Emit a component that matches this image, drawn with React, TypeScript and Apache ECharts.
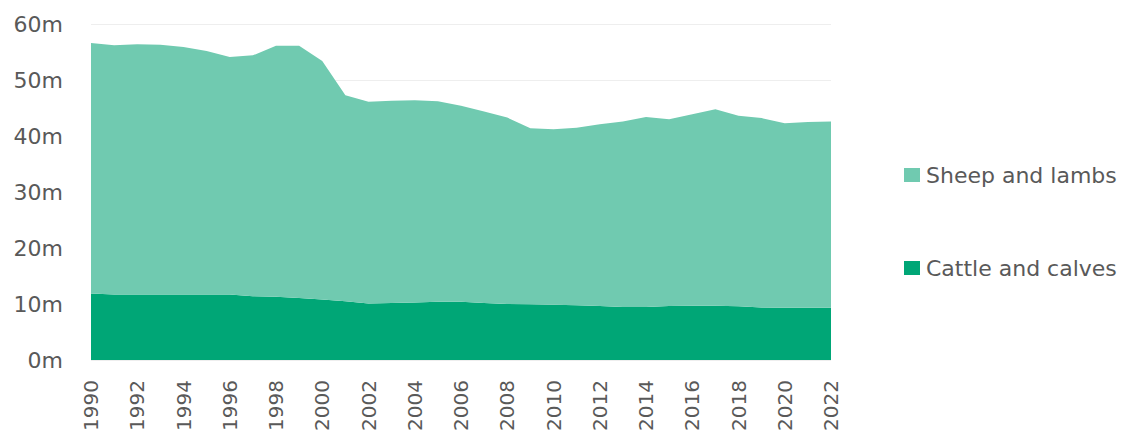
import React, { useEffect, useRef } from "react";
import * as echarts from "echarts";

const years = [
  "1990","1991","1992","1993","1994","1995","1996","1997","1998","1999",
  "2000","2001","2002","2003","2004","2005","2006","2007","2008","2009",
  "2010","2011","2012","2013","2014","2015","2016","2017","2018","2019",
  "2020","2021","2022",
];

// millions
const cattle = [
  11.9, 11.7, 11.7, 11.7, 11.7, 11.7, 11.7, 11.4, 11.3, 11.1,
  10.8, 10.5, 10.1, 10.2, 10.3, 10.4, 10.4, 10.2, 10.0, 9.95,
  9.9, 9.8, 9.65, 9.5, 9.5, 9.65, 9.7, 9.7, 9.6, 9.4,
  9.35, 9.35, 9.35,
];

const total = [
  56.6, 56.2, 56.4, 56.3, 55.9, 55.2, 54.1, 54.4, 56.1, 56.1,
  53.4, 47.3, 46.1, 46.3, 46.4, 46.2, 45.4, 44.4, 43.3, 41.4,
  41.2, 41.5, 42.1, 42.6, 43.4, 43.0, 43.9, 44.8, 43.6, 43.2,
  42.3, 42.5, 42.6,
];

const sheep = total.map((t, i) => +(t - cattle[i]).toFixed(2));

const yTicks = [0, 10, 20, 30, 40, 50, 60];

export default function App() {
  const ref = useRef<HTMLDivElement>(null);
  useEffect(() => {
    document.body.style.margin = "0";
    if (!ref.current) return;
    const chart = echarts.init(ref.current, undefined, { renderer: "svg" });
    const font = "'DejaVu Sans', sans-serif";
    chart.setOption({
      animation: false,
      grid: { left: 91, right: 313, top: 24, bottom: 73, containLabel: false },
      legend: {
        orient: "vertical",
        left: 899,
        top: 159,
        itemGap: 71,
        itemWidth: 16,
        itemHeight: 14,
        itemStyle: { borderWidth: 0 },
        icon: "rect",
        data: ["Sheep and lambs", "Cattle and calves"],
        textStyle: { fontFamily: font, fontSize: 22, color: "#595959", padding: [0, 0, 0, 1] },
      },
      xAxis: {
        type: "category",
        data: years,
        boundaryGap: false,
        axisLine: { show: false },
        axisTick: { show: false },
        axisLabel: {
          interval: 1,
          rotate: 90,
          margin: 20,
          fontFamily: font,
          fontSize: 20,
          color: "#595959",
        },
      },
      yAxis: {
        type: "value",
        min: yTicks[0],
        max: yTicks[yTicks.length - 1],
        interval: 10,
        axisLine: { show: false },
        axisTick: { show: false },
        splitLine: { lineStyle: { color: "#eeeeee", width: 1 } },
        axisLabel: {
          fontFamily: font,
          fontSize: 22,
          color: "#595959",
          margin: 28,
          formatter: (v: number) => `${v}m`,
        },
      },
      series: [
        {
          name: "Cattle and calves",
          type: "line",
          stack: "total",
          data: cattle,
          symbol: "none",
          lineStyle: { width: 0 },
          areaStyle: { color: "#00a676", opacity: 1 },
          itemStyle: { color: "#00a676" },
        },
        {
          name: "Sheep and lambs",
          type: "line",
          stack: "total",
          data: sheep,
          symbol: "none",
          lineStyle: { width: 0 },
          areaStyle: { color: "#70cab0", opacity: 1 },
          itemStyle: { color: "#70cab0" },
        },
      ],
    });
    return () => chart.dispose();
  }, []);
  return <div ref={ref} style={{ width: 1144, height: 434 }} />;
}
